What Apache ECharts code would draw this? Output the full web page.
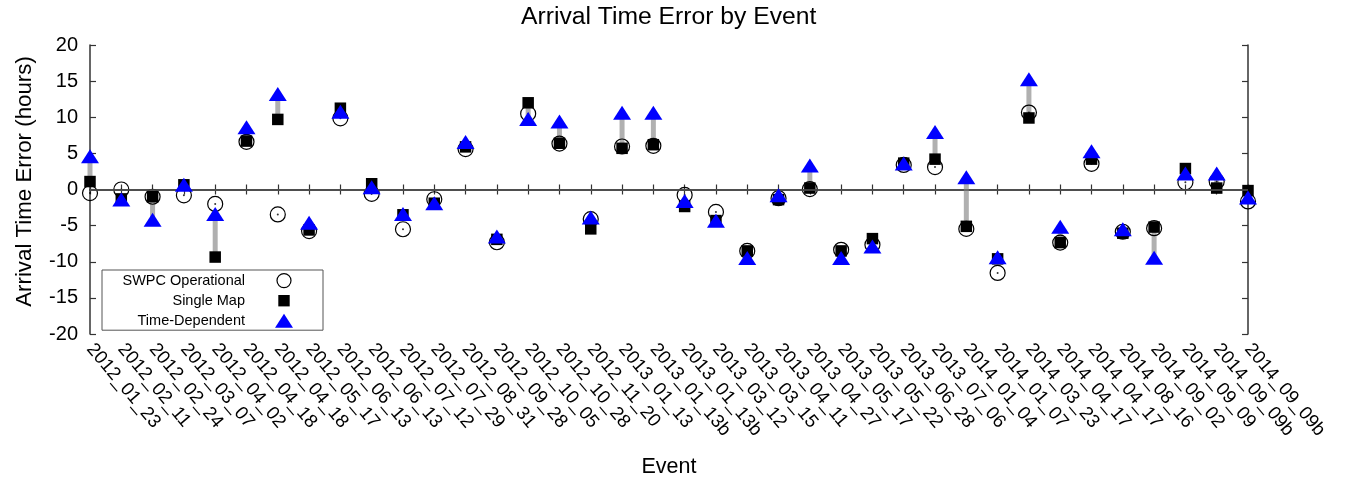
<!DOCTYPE html>
<html>
<head>
<meta charset="utf-8">
<script src="https://cdn.jsdelivr.net/npm/echarts@6/dist/echarts.min.js"></script>
<style>html,body{margin:0;padding:0;background:#fff;}#c{width:1351px;height:480px;}</style>
</head>
<body>
<div id="c"></div>
<script>
const categories = ['2012_01_23','2012_02_11','2012_02_24','2012_03_07','2012_04_02','2012_04_18','2012_04_18','2012_05_17','2012_06_13','2012_06_13','2012_07_12','2012_07_29','2012_08_31','2012_09_28','2012_10_05','2012_10_28','2012_11_20','2013_01_13','2013_01_13b','2013_01_13b','2013_03_12','2013_03_15','2013_04_11','2013_04_27','2013_05_17','2013_05_22','2013_06_28','2013_07_06','2014_01_04','2014_01_07','2014_03_23','2014_04_17','2014_04_17','2014_08_16','2014_09_02','2014_09_09','2014_09_09b','2014_09_09b'];
const swpc = [-0.5,0.0,-1.0,-0.8,-2.0,6.6,-3.45,-5.75,9.85,-0.6,-5.5,-1.35,5.6,-7.3,10.5,6.35,-4.1,5.95,6.05,-0.75,-3.1,-8.5,-1.2,0.05,-8.35,-7.65,3.4,3.1,-5.45,-11.55,10.65,-7.35,3.55,-5.85,-5.35,1.0,1.1,-1.65];
const singleMap = [1.1,-1.3,-1.0,0.65,-9.35,6.7,9.7,-5.6,11.25,0.8,-3.5,-1.9,5.9,-6.9,12.0,6.4,-5.45,5.7,6.2,-2.35,-4.3,-8.5,-1.4,0.2,-8.5,-6.8,3.65,4.2,-5.1,-9.6,9.9,-7.35,4.2,-6.05,-5.2,2.9,0.2,-0.15];
const timeDep = [4.4,-1.6,-4.4,0.45,-3.6,8.4,13.0,-4.8,10.55,0.1,-3.6,-2.1,6.36,-6.7,9.55,9.2,-4.1,10.4,10.4,-1.8,-4.55,-9.7,-1.0,3.1,-9.7,-8.1,3.4,7.75,1.5,-9.6,15.05,-5.35,5.1,-5.7,-9.65,2.0,2.0,-1.3];
const yTicks = [-20,-15,-10,-5,0,5,10,15,20];

const chart = echarts.init(document.getElementById('c'), null, {renderer:'canvas'});
const F = 'Liberation Sans, Arial, sans-serif';
const axisLine = {show:true, lineStyle:{color:'#333', width:1.5}};
const option = {
  backgroundColor:'#fff',
  animation:false,
  title:{text:'Arrival Time Error by Event', left:516, top:0, textStyle:{fontFamily:F, fontSize:24.7, fontWeight:'normal', color:'#000'}},
  grid:{left:90, right:103, top:45, bottom:146, containLabel:false, outerBoundsMode:'none'},
  legend:{
    orient:'vertical', left:102, top:270, align:'right',
    itemWidth:18, itemHeight:14, itemGap:5,
    padding:[3,30,2,4],
    borderColor:'#555', borderWidth:1, backgroundColor:'#fff',
    selectedMode:false,
    textStyle:{fontFamily:F, fontSize:14.5, lineHeight:14, color:'#000', width:139, align:'right', padding:[0,25,0,0]},
    data:[
      {name:'SWPC Operational', icon:'circle', itemStyle:{color:'#fff', borderColor:'#000', borderWidth:1.2}},
      {name:'Single Map', icon:'path://M0,0M14,14M1.3,1.3h11.4v11.4h-11.4z', itemStyle:{color:'#000'}},
      {name:'Time-Dependent', icon:'triangle', itemStyle:{color:'#0000ff'}}
    ],
    z:10
  },
  xAxis:[{
    type:'category', data:categories, boundaryGap:false,
    axisLine:axisLine,
    axisTick:{show:true, inside:true, length:5, interval:0, lineStyle:{color:'#333', width:1.2}},
    axisLabel:{interval:0, rotate:-50, fontFamily:F, fontSize:18.7, color:'#000', margin:12},
    splitLine:{show:false},
    name:'Event', nameLocation:'middle', nameGap:122,
    nameTextStyle:{fontFamily:F, fontSize:21.5, color:'#000'}
  },{
    type:'category', data:categories, boundaryGap:false, position:'top',
    axisLine:axisLine,
    axisTick:{show:true, inside:true, length:5, interval:0, lineStyle:{color:'#333', width:1.2}},
    axisLabel:{show:false}, splitLine:{show:false}
  }],
  yAxis:[{
    type:'value', min:-20, max:20, interval:5,
    axisLine:axisLine,
    axisTick:{show:true, inside:true, length:6, lineStyle:{color:'#333', width:1.2}},
    axisLabel:{fontFamily:F, fontSize:20, color:'#000', margin:12},
    splitLine:{show:false},
    name:'Arrival Time Error (hours)', nameLocation:'middle', nameGap:54,
    nameTextStyle:{fontFamily:F, fontSize:22.3, color:'#000', padding:[0,0,0,16]}
  },{
    type:'value', min:-20, max:20, interval:5, position:'right',
    axisLine:axisLine,
    axisTick:{show:true, inside:true, length:6, lineStyle:{color:'#333', width:1.2}},
    axisLabel:{show:false}, splitLine:{show:false}
  }],
  series:[
    {
      name:'diff', type:'custom', xAxisIndex:0, yAxisIndex:0, z:1,
      data: categories.map((c,i)=>[i, singleMap[i], timeDep[i]]),
      renderItem:function(params, api){
        const a = api.coord([api.value(0), api.value(1)]);
        const b = api.coord([api.value(0), api.value(2)]);
        return {type:'rect', shape:{x:a[0]-2.5, y:Math.min(a[1],b[1]), width:5, height:Math.abs(a[1]-b[1])}, style:{fill:'#b0b0b0'}};
      },
      markLine:{silent:true, symbol:'none', label:{show:false}, lineStyle:{color:'#555', width:1.5, type:'solid'}, data:[{yAxis:0}]}
    },
    {
      name:'SWPC Operational', type:'scatter', z:2, data:swpc,
      symbol:'circle', symbolSize:15,
      itemStyle:{color:'rgba(255,255,255,0)', borderColor:'#000', borderWidth:1.2, opacity:1}
    },
    {
      name:'swpcdot', type:'scatter', z:3, data:swpc, symbol:'circle', symbolSize:2,
      itemStyle:{color:'#000'}, silent:true
    },
    {
      name:'Single Map', type:'scatter', z:4, data:singleMap,
      symbol:'rect', symbolSize:11.5, itemStyle:{color:'#000', opacity:1}
    },
    {
      name:'Time-Dependent', type:'scatter', z:5, data:timeDep,
      symbol:'triangle', symbolSize:[18,14], symbolOffset:[0,-1.5], itemStyle:{color:'#0000ff', opacity:1}
    }
  ]
};
chart.setOption(option);
</script>
</body>
</html>
